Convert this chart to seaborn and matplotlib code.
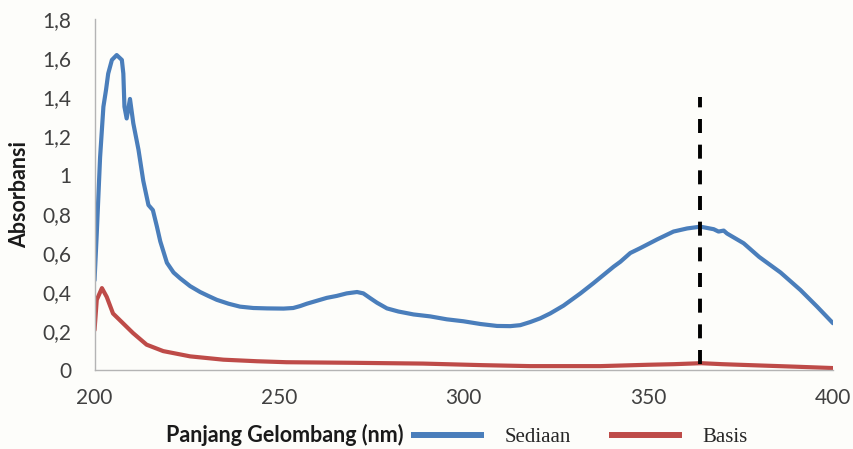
import matplotlib
matplotlib.use("Agg")
import matplotlib.pyplot as plt
from matplotlib.lines import Line2D
import pandas as pd
import seaborn as sns

# UV spectra: wavelength (nm) and absorbance
sediaan_nm = [200, 200.6, 201.5, 202.4, 203.1, 203.7, 204.7, 206.0, 207.4, 207.8,
              208.1, 208.7, 209.6, 210.5, 211.9, 213.2, 214.6, 215.8, 216.9, 217.8,
              219.6, 221.4, 223.2, 225.9, 228.6, 230.8, 233.1, 236.3, 239.4, 243.0,
              246.7, 251.2, 253.8, 255.7, 257.5, 260.2, 262.9, 265.6, 268.3, 271.1,
              272.8, 274.7, 276.5, 279.2, 282.3, 286.4, 290.9, 295.4, 299.9, 304.5,
              309.0, 312.6, 315.3, 318.0, 320.7, 323.4, 327.0, 331.6, 335.1, 340.6,
              342.4, 345.1, 347.8, 352.4, 356.8, 360.5, 364.1, 367.7, 369.0, 370.4,
              371.3, 375.8, 380.0, 385.8, 391.2, 395.7, 400]
sediaan_abs = [0.46, 0.70, 1.09, 1.35, 1.435, 1.52, 1.59, 1.615, 1.59, 1.52,
               1.35, 1.29, 1.39, 1.265, 1.13, 0.97, 0.846, 0.82, 0.735, 0.66,
               0.55, 0.50, 0.47, 0.43, 0.40, 0.38, 0.36, 0.34, 0.325, 0.318,
               0.316, 0.315, 0.318, 0.328, 0.34, 0.355, 0.37, 0.38, 0.393, 0.40,
               0.393, 0.368, 0.345, 0.316, 0.30, 0.285, 0.275, 0.26, 0.25, 0.236,
               0.226, 0.225, 0.23, 0.246, 0.265, 0.29, 0.33, 0.393, 0.445, 0.53,
               0.555, 0.60, 0.625, 0.67, 0.71, 0.726, 0.735, 0.722, 0.71, 0.715,
               0.70, 0.65, 0.58, 0.50, 0.41, 0.325, 0.24]

basis_nm = [200, 200.6, 202, 203.3, 205, 207.7, 210.4, 214.1, 218.6, 225.9,
            234.9, 244, 252, 270, 289, 305, 318, 337, 350, 357,
            364.3, 370, 376, 390, 400]
basis_abs = [0.205, 0.36, 0.42, 0.375, 0.29, 0.24, 0.19, 0.13, 0.097, 0.07,
             0.053, 0.045, 0.04, 0.037, 0.033, 0.025, 0.02, 0.02, 0.027, 0.03,
             0.035, 0.03, 0.026, 0.017, 0.01]

series_names = ["Sediaan", "Basis"]
series_colors = ["#4a7ebb", "#be4b48"]

# maximum-wavelength marker
peak_nm = 364
peak_span = [0.03, 1.40]

x_ticks = [200, 250, 300, 350, 400]
y_ticks = [0, 0.2, 0.4, 0.6, 0.8, 1.0, 1.2, 1.4, 1.6, 1.8]
y_tick_labels = ["0", "0,2", "0,4", "0,6", "0,8", "1", "1,2", "1,4", "1,6", "1,8"]

df = pd.DataFrame({
    "nm": sediaan_nm + basis_nm,
    "A": sediaan_abs + basis_abs,
    "Sampel": [series_names[0]] * len(sediaan_nm) + [series_names[1]] * len(basis_nm),
})

sns.set_theme(style="white")
plt.rcParams["font.family"] = ["Lato", "DejaVu Sans"]
plt.rcParams["lines.solid_joinstyle"] = "round"
plt.rcParams["lines.solid_capstyle"] = "round"

bg = "#fdfdfa"
fig = plt.figure(figsize=(8.54, 4.49), dpi=100, facecolor=bg)
ax = fig.add_axes([0.1107, 0.1759, 0.8647, 0.7818])
ax.set_facecolor(bg)

palette = dict(zip(series_names, series_colors))
sns.lineplot(data=df, x="nm", y="A", hue="Sampel", palette=palette,
             estimator=None, linewidth=3.0, legend=False, ax=ax)

ax.vlines(peak_nm, peak_span[0], peak_span[1], colors="black",
          linewidth=2.8, linestyles=(0, (3.6, 3.0)), zorder=3)

ax.set_xlim(200, 400)
ax.set_ylim(0, 1.8)
ax.set_xticks(x_ticks)
ax.set_xticklabels([str(v) for v in x_ticks])
ax.set_yticks(y_ticks)
ax.set_yticklabels(y_tick_labels)
ax.tick_params(axis="both", length=0, labelsize=15, labelcolor="#404040")
ax.tick_params(axis="y", pad=16.5)
ax.tick_params(axis="x", pad=13)

for side in ["top", "right"]:
    ax.spines[side].set_visible(False)
for side in ["left", "bottom"]:
    ax.spines[side].set_color("#b4b4b4")
    ax.spines[side].set_linewidth(1.0)

ax.set_xlabel("Panjang Gelombang (nm)", fontsize=15.5, fontweight="bold", color="#1a1a1a")
ax.set_ylabel("Absorbansi", fontsize=15.5, fontweight="bold", color="#1a1a1a")
ax.xaxis.set_label_coords(0.258, -0.155)
ax.yaxis.set_label_coords(-0.087, 0.5)

handles = [Line2D([], [], color=c, linewidth=4.3, solid_capstyle="butt") for c in series_colors]
fig.legend(handles, series_names, loc="center left",
           bbox_to_anchor=(411 / 854, 1 - 437 / 449), frameon=False, ncol=2,
           borderpad=0, borderaxespad=0, handlelength=3.5, handletextpad=1.0,
           columnspacing=1.8, prop={"family": "Liberation Serif", "size": 15})

fig.savefig("out.png", dpi=100, facecolor=bg)
